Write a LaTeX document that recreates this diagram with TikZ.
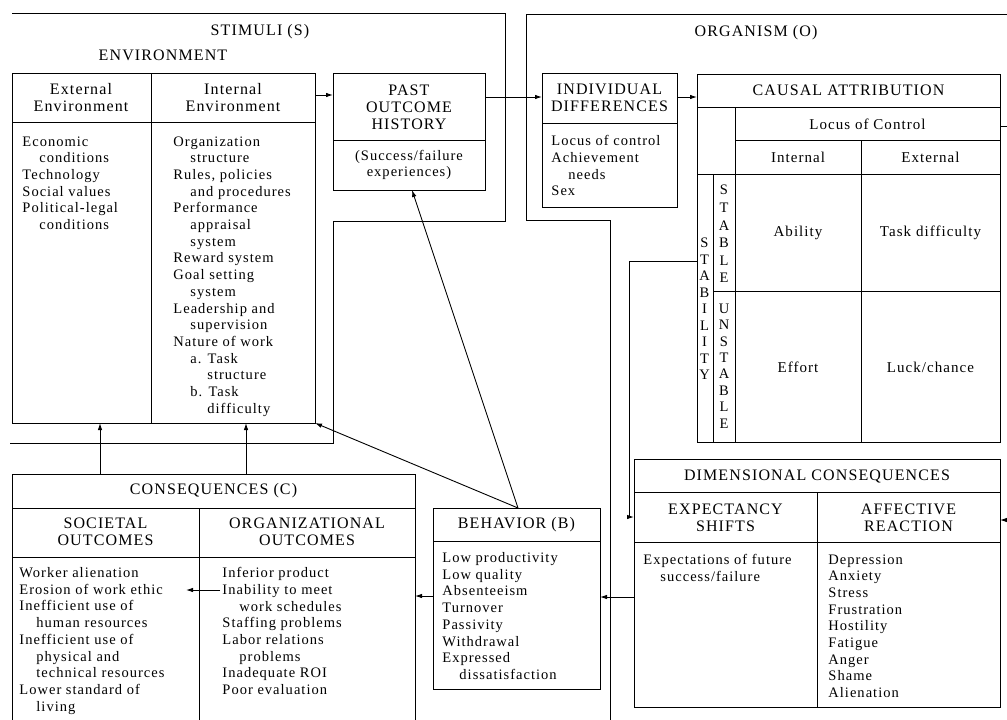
\documentclass[tikz,border=0pt]{standalone}
\usepackage{fontspec}
\setmainfont{Liberation Serif}[LetterSpace=7.0]
\usetikzlibrary{arrows.meta}

\newcommand{\indnt}{\hspace*{17pt}}

\tikzset{
    box/.style={draw, anchor=north west, inner sep=0pt, outer sep=0pt},
    head/.style={font=\fontsize{16}{17}\selectfont, align=center, inner sep=0pt},
    txt/.style={font=\fontsize{14.5}{16.7}\selectfont, align=left, anchor=north west, inner sep=0pt},
    cell/.style={font=\fontsize{15}{16.7}\selectfont, align=center, inner sep=0pt},
    letters/.style={font=\fontsize{14.5}{16.5}\selectfont, align=center, inner sep=0pt},
    arr/.style={-{Latex[length=7pt, width=4.5pt]}},
}

\begin{document}
\begin{tikzpicture}[x=1pt, y=-1pt, line width=0.9pt]
    \useasboundingbox (0, 0) rectangle (1007, 720);
    \clip (0, 0) rectangle (1007, 720);

    % frames
    \draw (12, 13) -- (505, 13) -- (505, 221) -- (333, 221) -- (333, 443) -- (10, 443);
    \draw (1007, 14) -- (526, 14) -- (526, 220) -- (610, 220) -- (610, 720);
    \node[head] (stim) at (260, 32) {STIMULI (S)};
    \node[head] (envlab) at (163, 55) {ENVIRONMENT};
    \node[head] (org) at (756, 33) {ORGANISM (O)};

    % environment
    \node[box, minimum width=303pt, minimum height=350pt] (env) at (12, 73) {};
    \draw (env.west |- 0, 122) -- (env.east |- 0, 122);
    \draw (151, 73) -- (env.south -| 151, 0);
    \node[head] (exthead) at (81, 98) {External\\Environment};
    \node[head] (inthead) at (233, 98) {Internal\\Environment};
    \node[txt] (extlist) at (22, 136) {Economic\\\indnt conditions\\Technology\\Social values\\Political-legal\\\indnt conditions};
    \node[txt] (intlist) at (173, 136) {Organization\\\indnt structure\\Rules, policies\\\indnt and procedures\\Performance\\\indnt appraisal\\\indnt system\\Reward system\\Goal setting\\\indnt system\\Leadership and\\\indnt supervision\\Nature of work\\\indnt a. Task\\\indnt\indnt structure\\\indnt b. Task\\\indnt\indnt difficulty};

    % past outcome history
    \node[box, minimum width=152pt, minimum height=117pt] (past) at (333, 73) {};
    \draw (past.west |- 0, 140) -- (past.east |- 0, 140);
    \node[head] (pasthead) at (409, 107) {PAST\\OUTCOME\\HISTORY};
    \node[txt, anchor=center, align=center] (pastbody) at (409, 165) {(Success/failure\\experiences)};

    % individual differences
    \node[box, minimum width=135pt, minimum height=134pt] (indiv) at (542, 73) {};
    \draw (indiv.west |- 0, 123) -- (indiv.east |- 0, 123);
    \node[head] (indivhead) at (609.5, 98) {INDIVIDUAL\\DIFFERENCES};
    \node[txt] (indivlist) at (551, 135) {Locus of control\\Achievement\\\indnt needs\\Sex};

    % causal attribution
    \node[box, minimum width=303pt, minimum height=368pt] (causal) at (697, 74) {};
    \draw (causal.west |- 0, 107) -- (causal.east |- 0, 107);
    \draw (735, 107) -- (causal.south -| 735, 0);
    \draw (735, 140) -- (causal.east |- 0, 140);
    \draw (861, 140) -- (causal.south -| 861, 0);
    \draw (causal.west |- 0, 174) -- (causal.east |- 0, 174);
    \draw (713, 174) -- (causal.south -| 713, 0);
    \draw (713, 291) -- (causal.east |- 0, 291);
    \node[head] (causalhead) at (848.5, 90.5) {CAUSAL ATTRIBUTION};
    \node[cell] (locus) at (867.5, 124) {Locus of Control};
    \node[cell] (internal) at (798, 157) {Internal};
    \node[cell] (external) at (930.5, 157) {External};
    \node[cell] (ability) at (798, 233) {Ability};
    \node[cell] (taskdiff) at (930.5, 233) {Task difficulty};
    \node[cell] (effort) at (798, 367) {Effort};
    \node[cell] (luck) at (930.5, 367) {Luck/chance};
    \node[letters] (stability) at (704.5, 309) {S\\T\\A\\B\\I\\L\\I\\T\\Y};
    \node[letters, font=\fontsize{14.5}{17.6}\selectfont] (stable) at (724, 234) {S\\T\\A\\B\\L\\E};
    \node[letters, font=\fontsize{14.5}{16.4}\selectfont] (unstable) at (724, 366) {U\\N\\S\\T\\A\\B\\L\\E};

    % dimensional consequences
    \node[box, minimum width=366pt, minimum height=248pt] (dim) at (634, 459) {};
    \draw (dim.west |- 0, 492) -- (dim.east |- 0, 492);
    \draw (817, 492) -- (dim.south -| 817, 0);
    \draw (dim.west |- 0, 542) -- (dim.east |- 0, 542);
    \node[head] (dimhead) at (817, 476) {DIMENSIONAL CONSEQUENCES};
    \node[head] (expshift) at (725.5, 518) {EXPECTANCY\\SHIFTS};
    \node[head] (affreact) at (908.5, 518) {AFFECTIVE\\REACTION};
    \node[txt] (explist) at (643, 554) {Expectations of future\\\indnt success/failure};
    \node[txt] (afflist) at (828, 554) {Depression\\Anxiety\\Stress\\Frustration\\Hostility\\Fatigue\\Anger\\Shame\\Alienation};

    % behavior
    \node[box, minimum width=167pt, minimum height=181pt] (beh) at (433, 508) {};
    \draw (beh.west |- 0, 541) -- (beh.east |- 0, 541);
    \node[head] (behhead) at (516.5, 525) {BEHAVIOR (B)};
    \node[txt] (behlist) at (442, 552) {Low productivity\\Low quality\\Absenteeism\\Turnover\\Passivity\\Withdrawal\\Expressed\\\indnt dissatisfaction};

    % consequences
    \node[box, minimum width=403pt, minimum height=260pt] (cons) at (12, 474) {};
    \draw (cons.west |- 0, 508) -- (cons.east |- 0, 508);
    \draw (199, 508) -- (cons.south -| 199, 0);
    \draw (cons.west |- 0, 557) -- (cons.east |- 0, 557);
    \node[head] (conshead) at (213.5, 491) {CONSEQUENCES (C)};
    \node[head] (sochead) at (105.5, 532) {SOCIETAL\\OUTCOMES};
    \node[head] (orghead) at (307, 532) {ORGANIZATIONAL\\OUTCOMES};
    \node[txt] (soclist) at (19, 567) {Worker alienation\\Erosion of work ethic\\Inefficient use of\\\indnt human resources\\Inefficient use of\\\indnt physical and\\\indnt technical resources\\Lower standard of\\\indnt living};
    \node[txt] (orglist) at (222, 567) {Inferior product\\Inability to meet\\\indnt work schedules\\Staffing problems\\Labor relations\\\indnt problems\\Inadequate ROI\\Poor evaluation};
    \coordinate (inab) at (220, 590);
    \coordinate (ethic) at (186, 590);

    % connectors
    \draw[arr] (env.east |- 0, 95) -- (past.west |- 0, 95);
    \draw[arr] (past.east |- 0, 97) -- (indiv.west |- 0, 97);
    \draw[arr] (indiv.east |- 0, 97) -- (causal.west |- 0, 97);
    \draw[arr] (beh.north -| 518, 0) -- (past.south -| 412, 0);
    \draw[arr] (beh.north -| 518, 0) -- (env.south east);
    \draw[arr] (cons.north -| 100, 0) -- (env.south -| 100, 0);
    \draw[arr] (cons.north -| 246, 0) -- (env.south -| 246, 0);
    \draw[arr] (inab) -- (ethic);
    \draw[arr] (beh.west |- 0, 596) -- (cons.east |- 0, 596);
    \draw[arr] (dim.west |- 0, 597) -- (beh.east |- 0, 597);
    \draw[arr] (causal.west |- 0, 261) -| (629, 517) -- (dim.west |- 0, 517);
    \draw (causal.east |- 0, 126) -- (1007, 126);
    \draw[arr] (1007, 520) -- (dim.east |- 0, 520);

\end{tikzpicture}
\end{document}
